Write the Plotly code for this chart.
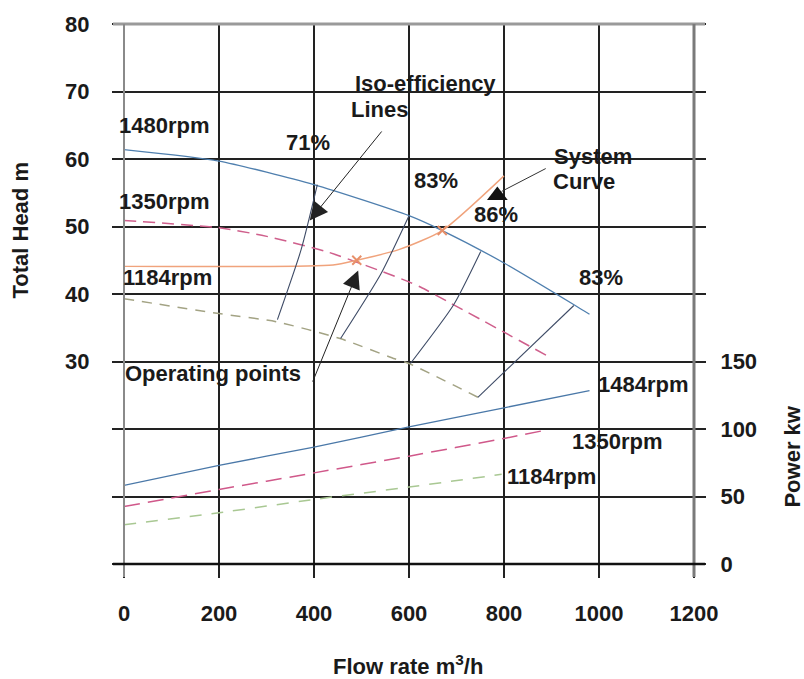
import plotly.graph_objects as go

# ---------------- data ----------------
flow_h1480 = [0, 200, 400, 600, 670, 800, 950, 980]
head_1480 = [61.4, 59.7, 56.2, 51.6, 49.4, 44.6, 38.3, 37.0]

flow_h1350 = [0, 200, 290, 430, 600, 625, 900]
head_1350 = [50.9, 49.8, 48.7, 46.2, 41.8, 41.0, 30.5]

flow_h1184 = [0, 200, 320, 455, 570, 600, 745]
head_1184 = [39.3, 37.1, 35.9, 33.4, 30.4, 29.7, 24.7]

flow_sys = [0, 440, 490, 580, 670, 800]
head_sys = [44.1, 44.3, 45.0, 46.6, 49.4, 57.5]

op_flow = [490, 670]
op_head = [45.0, 49.4]

iso71_flow = [323, 373, 407]
iso71_head = [36.2, 46.6, 56.2]
iso83a_flow = [456, 541, 600]
iso83a_head = [33.4, 43.0, 51.6]
iso86_flow = [603, 694, 751]
iso86_head = [29.7, 38.4, 46.3]
iso83b_flow = [745, 947]
iso83b_head = [24.7, 38.3]

flow_p1484 = [0, 200, 400, 600, 800, 980]
power_1484 = [58.2, 73.1, 86.6, 101.5, 115.7, 128.4]
flow_p1350 = [0, 200, 400, 600, 800, 890]
power_1350 = [42.5, 55.2, 67.5, 79.9, 93.0, 99.3]
flow_p1184 = [0, 200, 400, 600, 795]
power_1184 = [29.1, 38.0, 47.8, 57.0, 66.4]

x_ticks = [0, 200, 400, 600, 800, 1000, 1200]
head_ticks = [0, 10, 20, 30, 40, 50, 60, 70, 80]
head_ticktext = ["", "", "", "30", "40", "50", "60", "70", "80"]
power_ticks = [0, 50, 100, 150, 200, 250, 300, 350, 400]
power_ticktext = ["0", "50", "100", "150", "", "", "", "", ""]

# text labels: (text, flow, head)
labels = [
    ("1480rpm", 86, 65.0), ("1350rpm", 86, 53.7), ("1184rpm", 91, 42.4),
    ("71%", 387, 62.5), ("Iso-efficiency", 634, 71.2), ("Lines", 537, 67.4),
    ("83%", 657, 56.8), ("86%", 783, 51.8), ("System", 987, 60.4),
    ("Curve", 968, 56.6), ("83%", 1004, 42.4), ("Operating points", 187, 28.2),
    ("1484rpm", 1093, 26.6), ("1350rpm", 1038, 18.1), ("1184rpm", 899, 12.9),
]
# arrows: (tip flow, tip head, tail flow, tail head)
arrows = [(391, 50.9, 545, 64.3), (493, 43.5, 396, 26.8)]
sys_arrow = (795, 55.2, 891, 58.7)
sys_marker_flow = [786]
sys_marker_head = [54.6]

FONT = "Liberation Sans, Arial, sans-serif"
TXT = "#1a1a1a"
FS = 22

fig = go.Figure()

def line(x, y, color, width=1.3, dash="solid", yaxis="y"):
    fig.add_trace(go.Scatter(x=x, y=y, mode="lines", yaxis=yaxis,
                             line=dict(color=color, width=width, dash=dash, shape="spline", smoothing=0.6),
                             showlegend=False, hoverinfo="skip"))

line(flow_h1480, head_1480, "#4f7fae", 1.3)
line(flow_h1350, head_1350, "#cf5f8c", 1.5, "12px,7px")
line(flow_h1184, head_1184, "#a3a384", 1.5, "10px,8px")
line(flow_sys, head_sys, "#f0a37c", 1.4)
for fx, hy in [(iso71_flow, iso71_head), (iso83a_flow, iso83a_head),
               (iso86_flow, iso86_head), (iso83b_flow, iso83b_head)]:
    line(fx, hy, "#3e4b66", 1.1)
line(flow_p1484, power_1484, "#4a78a8", 1.3, "solid", "y2")
line(flow_p1350, power_1350, "#d0588a", 1.5, "16px,8px", "y2")
line(flow_p1184, power_1184, "#a9c893", 1.5, "12px,10px", "y2")

fig.add_trace(go.Scatter(x=op_flow, y=op_head, mode="markers",
                         marker=dict(symbol="x-thin-open", size=9, color="#e8906a",
                                     line=dict(width=2, color="#e8906a")),
                         showlegend=False, hoverinfo="skip"))
fig.add_trace(go.Scatter(x=sys_marker_flow, y=sys_marker_head, mode="markers",
                         marker=dict(symbol="triangle-up", size=18, color="#111"),
                         showlegend=False, hoverinfo="skip"))

anns = []
for t, fx, hy in labels:
    anns.append(dict(x=fx, y=hy, xref="x", yref="y", text=t, showarrow=False,
                     xanchor="center", yanchor="middle",
                     font=dict(family=FONT, size=FS, color=TXT, weight="bold")))
for tx, ty, sx, sy in arrows:
    anns.append(dict(x=tx, y=ty, ax=sx, ay=sy, xref="x", yref="y", axref="x", ayref="y",
                     text="", showarrow=True, arrowhead=2, arrowsize=3.6, arrowwidth=1,
                     arrowcolor="#222"))
anns.append(dict(x=sys_arrow[0], y=sys_arrow[1], ax=sys_arrow[2], ay=sys_arrow[3],
                 xref="x", yref="y", axref="x", ayref="y", text="", showarrow=True,
                 arrowhead=0, arrowwidth=1, arrowcolor="#333"))
# axis titles
anns.append(dict(x=-0.182, y=0.618, xref="paper", yref="paper", text="Total Head m",
                 textangle=-90, showarrow=False, xanchor="center", yanchor="middle",
                 font=dict(family=FONT, size=FS, color=TXT, weight="bold")))
anns.append(dict(x=1.172, y=0.199, xref="paper", yref="paper", text="Power kw",
                 textangle=-90, showarrow=False, xanchor="center", yanchor="middle",
                 font=dict(family=FONT, size=FS, color=TXT, weight="bold")))
anns.append(dict(x=0.498, y=-0.1875, xref="paper", yref="paper", text="Flow rate m<sup>3</sup>/h",
                 showarrow=False, xanchor="center", yanchor="middle",
                 font=dict(family=FONT, size=FS, color=TXT, weight="bold")))

ext = 11 / 570.0
shapes = [
    dict(type="line", xref="paper", yref="paper", x0=-ext, x1=1 + ext, y0=1, y1=1,
         line=dict(color="#9a9a9a", width=3)),
    dict(type="line", xref="paper", yref="paper", x0=0, x1=0, y0=-13 / 544, y1=1,
         line=dict(color="#8a8a8a", width=2)),
    dict(type="line", xref="paper", yref="paper", x0=1, x1=1, y0=-13 / 544, y1=1,
         line=dict(color="#7a7a7a", width=3)),
    dict(type="line", xref="paper", yref="paper", x0=-ext, x1=1 + ext, y0=0, y1=0,
         line=dict(color="#111", width=2.5)),
]

tickfont = dict(family=FONT, size=FS, color=TXT, weight="bold")
fig.update_layout(
    width=804, height=679,
    margin=dict(l=124, r=110, t=20, b=115),
    paper_bgcolor="white", plot_bgcolor="white",
    showlegend=False,
    annotations=anns, shapes=shapes,
    xaxis=dict(range=[0, 1200], tickvals=x_ticks, ticktext=[str(v) for v in x_ticks],
               showgrid=True, gridcolor="#222", gridwidth=1.5, zeroline=False, showline=False,
               ticks="outside", ticklen=13, tickcolor="#222", tickwidth=1.5,
               tickfont=tickfont, ticklabelstandoff=17),
    yaxis=dict(range=[0, 80], tickvals=head_ticks, ticktext=head_ticktext,
               showgrid=True, gridcolor="#222", gridwidth=1.5, zeroline=False, showline=False,
               ticks="outside", ticklen=11, tickcolor="#222", tickwidth=1.5,
               tickfont=tickfont, ticklabelstandoff=18),
    yaxis2=dict(range=[0, 400], tickvals=power_ticks, ticktext=power_ticktext,
                overlaying="y", side="right", showgrid=False, zeroline=False, showline=False,
                ticks="outside", ticklen=11, tickcolor="#222", tickwidth=1.5,
                tickfont=tickfont, ticklabelstandoff=10),
)

fig.write_html("out.html")
